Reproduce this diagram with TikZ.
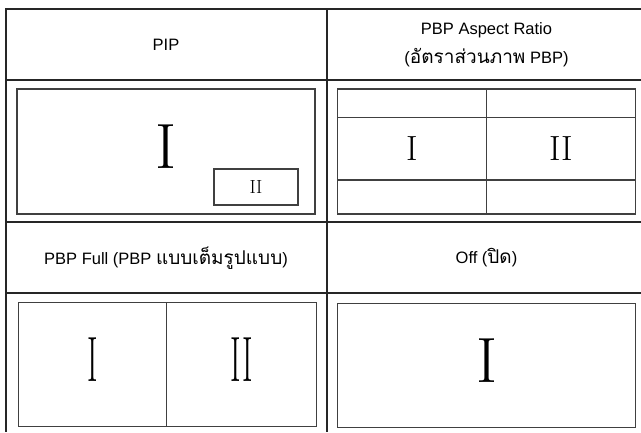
\documentclass[tikz,border=0pt]{standalone}
\usepackage{fontspec}
\setsansfont{Liberation Sans}
\newfontfamily\thaifont[Script=Thai, Scale=1.15]{Loma}
\usetikzlibrary{positioning}

\begin{document}
\begin{tikzpicture}[x=1pt, y=-1pt,
    grid/.style={line width=2.5pt, black!85},
    screen/.style={draw=black!75, line width=1.1pt, inner sep=0pt},
    head/.style={font=\sffamily\fontsize{16.5}{29}\selectfont, align=center},
    num/.style={font=\fontsize{#1}{#1}\selectfont, inner sep=0pt}
  ]
  \useasboundingbox (0,0) rectangle (641,432);

  % table lines
  \draw[grid] (641,9) -- (6,9) -- (6,432);
  \draw[grid] (327,9) -- (327,432);
  \foreach \y in {80,222,293}
    \draw[grid] (6,\y) -- (641,\y);

  % headers
  \node[head] (hpip) at (166,45) {PIP};
  \node[head] (haspect) at (486.5,45) {PBP Aspect Ratio\\({\thaifont อัตราส่วนภาพ} PBP)};
  \node[head] (hfull) at (166,258) {PBP Full (PBP {\thaifont แบบเต็มรูปแบบ})};
  \node[head] (hoff) at (486.5,258) {Off ({\thaifont ปิด})};

  % PIP
  \node[screen, minimum width=298pt, minimum height=125pt] (pip) at (166,151.5) {};
  \node[screen, minimum width=84pt, minimum height=36pt] (sub) at (256,187) {};
  \node[num=64] (pipmain) at (166,147) {I};
  \node[num=19] (pipsub) at (sub) {II};

  % PBP aspect ratio
  \node[screen, minimum width=298pt, minimum height=125pt] (aspect) at (486.7,151.5) {};
  \draw[black!75, line width=1.1pt] (aspect.north) -- (aspect.south);
  \draw[black!75, line width=1.1pt] (aspect.west |- 0,117.7) -- (aspect.east |- 0,117.7);
  \draw[black!75, line width=1.1pt] (aspect.west |- 0,180) -- (aspect.east |- 0,180);
  \node[num=35] (aspectl) at (412.2,149) {I};
  \node[num=35] (aspectr) at (561.2,149) {II};

  % PBP full
  \node[screen, minimum width=298pt, minimum height=124pt] (full) at (167.8,364.7) {};
  \draw[black!75, line width=1.1pt] (166.7,302.7) -- (166.7,426.7);
  \node[num=64, xscale=0.5] (fulll) at (93,360) {I};
  \node[num=64, xscale=0.5] (fullr) at (241.7,360) {II};

  % off
  \node[screen, minimum width=298pt, minimum height=124pt] (off) at (486.7,365.5) {};
  \node[num=64] (offmain) at (486.7,360.5) {I};
\end{tikzpicture}
\end{document}
